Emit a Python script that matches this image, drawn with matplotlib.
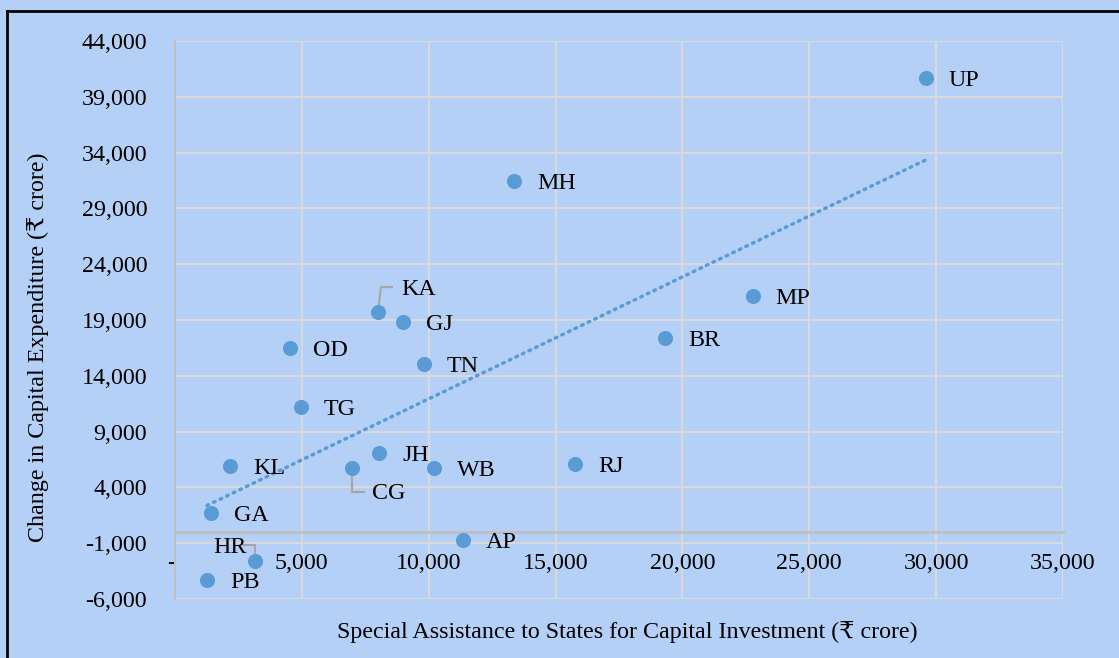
import numpy as np
import matplotlib.pyplot as plt

# state codes, Special Assistance (x) vs change in capex (y), Rs crore
states = ['UP', 'MH', 'MP', 'BR', 'KA', 'GJ', 'OD', 'TN', 'TG', 'JH',
          'KL', 'CG', 'WB', 'RJ', 'GA', 'AP', 'HR', 'PB']
assistance = [29590, 13360, 22770, 19310, 8000, 8980, 4530, 9810, 4960, 8040,
              2170, 6970, 10200, 15760, 1420, 11350, 3150, 1260]
capex_change = [40680, 31450, 21150, 17380, 19710, 18820, 16490, 15050, 11200, 7080,
                5910, 5730, 5730, 6090, 1700, -720, -2600, -4300]

x_ticks = list(range(0, 35001, 5000))
y_ticks = list(range(-6000, 44001, 5000))

# label offsets in pixels (dx, dy, ha); default is right of the point
offsets = {'KA': (23, 23, 'left'), 'CG': (20, -25, 'left'), 'HR': (-8, 14, 'right')}
# leader lines for the moved labels, as pixel offsets from the point
leaders = {'KA': [(0, 0), (3, 25), (14, 25)],
           'CG': [(0, 0), (0, -24), (12, -24)],
           'HR': [(0, 0), (0, 16), (-12, 16)]}

bg = '#b4d0f6'
blue = '#5b9bd5'
serif = ['Liberation Serif', 'DejaVu Serif', 'DejaVu Sans']
fs = 17.3

fig = plt.figure(figsize=(11.19, 6.58), dpi=100, facecolor=bg)
ax = fig.add_axes([175 / 1119, 1 - 599 / 658, 888 / 1119, 558 / 658])
ax.set_facecolor(bg)

for s in ['top', 'right']:
    ax.spines[s].set_visible(False)
ax.spines['bottom'].set_position(('data', 0))
ax.spines['bottom'].set_color('#bfbfbf')
ax.spines['bottom'].set_linewidth(2)
ax.spines['left'].set_color('#bfbfbf')
ax.spines['left'].set_linewidth(1.5)

ax.set_xlim(0, 35000)
ax.set_ylim(-6000, 44000)
ax.set_xticks(x_ticks)
ax.set_yticks(y_ticks)
ax.set_xticklabels(['-' if v == 0 else f'{v:,}' for v in x_ticks], family=serif, fontsize=fs)
ax.set_yticklabels([f'{v:,}' for v in y_ticks], family=serif, fontsize=fs)
ax.get_xticklabels()[0].set_horizontalalignment('right')
ax.tick_params(length=0)
ax.tick_params(axis='x', pad=15)
ax.tick_params(axis='y', pad=20)
ax.grid(True, color='#d9d9d9', linewidth=1.5)
ax.set_axisbelow(True)

# outer edges of the plot area
ax.axhline(-6000, color='#d9d9d9', linewidth=2, zorder=0.5)
ax.axvline(35000, color='#d9d9d9', linewidth=2, zorder=0.5)

# linear trendline
k, b = np.polyfit(assistance, capex_change, 1)
xs = np.array([min(assistance), max(assistance)])
ax.plot(xs, k * xs + b, color=blue, linewidth=2.5, linestyle=(0, (0.5, 1.6)),
        dash_capstyle='round', zorder=2)

ax.scatter(assistance, capex_change, s=118, color=blue, zorder=3, linewidths=0)

for name, xv, yv in zip(states, assistance, capex_change):
    dx, dy, ha = offsets.get(name, (23, -2, 'left'))
    ax.annotate(name, (xv, yv), xytext=(dx * 0.72, dy * 0.72), textcoords='offset points',
                ha=ha, va='center', family=serif, fontsize=fs, zorder=4)
    if name in leaders:
        px, py = ax.transData.transform((xv, yv))
        pts = np.array(leaders[name], dtype=float) + [px, py]
        dpts = ax.transData.inverted().transform(pts)
        ax.plot(dpts[:, 0], dpts[:, 1], color='#a6a6a6', linewidth=1.5, zorder=2.5)

ax.set_xlabel('Special Assistance to States for Capital Investment (₹ crore)',
              family=serif, fontsize=fs)
ax.set_ylabel('Change in Capital Expenditure (₹ crore)', family=serif, fontsize=fs)
ax.xaxis.set_label_coords((627 - 175) / 888, (599 - 621) / 558)
ax.yaxis.set_label_coords((49 - 175) / 888, 0.5 - 27 / 558)

# outer black frame
fig.add_artist(plt.Line2D([7 / 1119, 1], [1 - 11 / 658, 1 - 11 / 658], color='black', linewidth=2))
fig.add_artist(plt.Line2D([7 / 1119, 7 / 1119], [0, 1 - 11 / 658], color='black', linewidth=2))

fig.savefig('out.png', dpi=100, facecolor=bg)
